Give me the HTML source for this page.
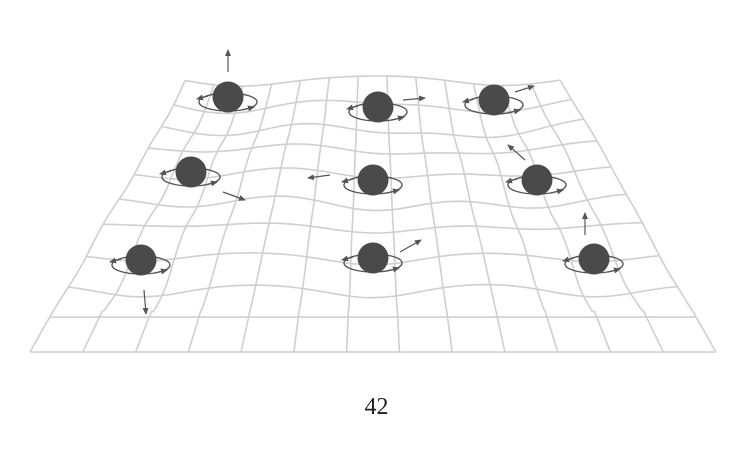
<!DOCTYPE html>
<html><head><style>
html,body{margin:0;padding:0;background:#fff;}
#c{position:absolute;left:0;top:0;}
.lbl{position:absolute;left:0;width:753px;top:394px;text-align:center;font:24px "Liberation Serif",serif;color:#222;}
</style></head><body>
<svg id="c" width="753" height="456" xmlns="http://www.w3.org/2000/svg">
<defs><marker id="a" markerWidth="8" markerHeight="8" refX="6" refY="3" orient="auto" markerUnits="userSpaceOnUse"><path d="M0,0 L7,3 L0,6 z" fill="#555"/></marker></defs>
<g id="grid" fill="none" stroke="#cfcfcf" stroke-width="1.6"></g>
<g id="fg"></g>
</svg>
<div class="lbl">42</div>
<script>
var balls=[[228,97],[378,107],[494,100],[191,172],[373,180],[537,180],[141,260],[373,258],[594,259]];
var NC=13,NR=10;
function pt(u,v){
  var w=v*v*0.3+v*0.7;
  var y=77+275*w;
  var xl=185+(30-185)*w, xr=560+(716-560)*w;
  var x=xl+(xr-xl)*u;
  var dy=0;
  if(v<0.88){
  for(var i=0;i<balls.length;i++){
    var bx=balls[i][0],by=balls[i][1]+14;
    var d2=((x-bx)*(x-bx))/(2*45*45)+((y-by)*(y-by))/(2*24*24);
    dy+=15*Math.exp(-d2);
  }
  dy+=4*Math.sin(u*9+v*5)*(1-v);
  }
  return [x,y+dy];
}
var s="";
for(var r=0;r<=NR;r++){var v=r/NR;var d="";for(var k=0;k<=60;k++){var p=pt(k/60,v);d+=(k?"L":"M")+p[0].toFixed(1)+","+p[1].toFixed(1);}s+='<path d="'+d+'"/>';}
for(var c=0;c<=NC;c++){var u=c/NC;var d="";for(var k=0;k<=60;k++){var p=pt(u,k/60);d+=(k?"L":"M")+p[0].toFixed(1)+","+p[1].toFixed(1);}s+='<path d="'+d+'"/>';}
document.getElementById('grid').innerHTML=s;
var f="";
balls.forEach(function(b){
  var x=b[0],y=b[1];
  f+='<ellipse cx="'+x+'" cy="'+(y+5)+'" rx="29" ry="9" fill="none" stroke="#555" stroke-width="1.4"/>';
  f+='<circle cx="'+x+'" cy="'+y+'" r="15.5" fill="#4a4a4a"/>';
  f+='<path d="M'+(x-20)+','+(y-1)+' L'+(x-31)+','+(y+2)+'" stroke="#555" stroke-width="1.4" marker-end="url(#a)"/>';
  f+='<path d="M'+(x+14)+','+(y+13)+' L'+(x+26)+','+(y+10)+'" stroke="#555" stroke-width="1.4" marker-end="url(#a)"/>';
});
var ar=[[228,72,228,50],[403,100,425,98],[515,92,534,86],[223,192,245,200],[330,175,308,178],[525,160,508,145],[585,235,585,213],[400,252,421,240],[144,290,146,314]];
ar.forEach(function(a){f+='<line x1="'+a[0]+'" y1="'+a[1]+'" x2="'+a[2]+'" y2="'+a[3]+'" stroke="#555" stroke-width="1.2" marker-end="url(#a)"/>';});
document.getElementById('fg').innerHTML=f;
</script>
</body></html>
